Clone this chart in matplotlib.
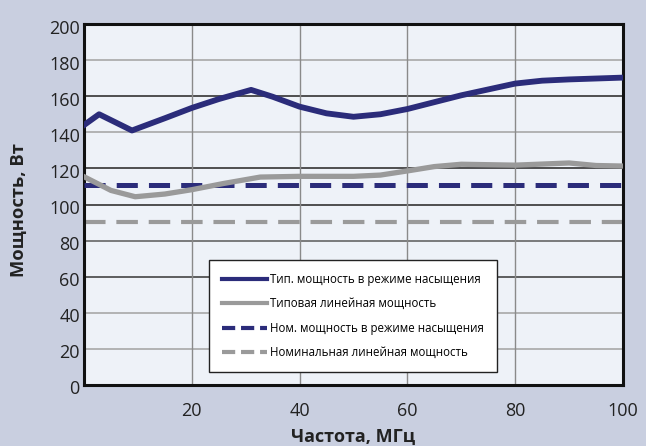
import matplotlib
matplotlib.use("Agg")
import matplotlib.pyplot as plt
from matplotlib.lines import Line2D
import matplotlib.transforms as mtransforms

plt.rcParams['font.family'] = ['Open Sans', 'DejaVu Sans']
plt.rcParams['lines.scale_dashes'] = False

# ---- data ----
freq_sat = [0, 2.8, 8.9, 15, 20, 25, 31, 35, 40, 45, 50, 55, 60, 70, 80, 85, 90, 100]
pow_sat = [144, 150, 141, 147.8, 153.5, 158.4, 163.5, 159.7, 154.2, 150.5, 148.6, 150, 152.9, 160.5, 167, 168.6, 169.3, 170.3]

freq_lin = [0, 5, 9.5, 15, 20, 26, 32.7, 40, 50, 55, 60, 65, 70, 80, 85, 90, 95, 100]
pow_lin = [115.4, 107.8, 104.3, 105.8, 108.2, 111.7, 115.2, 115.6, 115.6, 116.3, 118.6, 121, 122.3, 121.8, 122.4, 123, 121.6, 121.3]

nom_sat = 111
nom_lin = 90.5

labels = ["Тип. мощность в режиме насыщения",
          "Типовая линейная мощность",
          "Ном. мощность в режиме насыщения",
          "Номинальная линейная мощность"]

x_ticks = [20, 40, 60, 80, 100]
y_ticks = [0, 20, 40, 60, 80, 100, 120, 140, 160, 180, 200]

# ---- style ----
navy = "#2b2c7a"
gray = "#9a9a9a"
bg = "#c9cfe0"
plot_bg = "#eef2f8"

fig = plt.figure(figsize=(6.46, 4.46), dpi=100, facecolor=bg)
ax = fig.add_axes([84/646, 1-385/446, (623-84)/646, (385-24)/446])
ax.set_facecolor(plot_bg)
ax.set_xlim(0, 100)
ax.set_ylim(0, 200)

# grid
grid_colors = {20: "#a8a8a8", 40: "#a8a8a8", 60: "#444444", 80: "#666666",
               100: "#333333", 120: "#333333", 140: "#a8a8a8", 160: "#333333", 180: "#a8a8a8"}
for yv, c in grid_colors.items():
    ax.axhline(yv, color=c, lw=1.2, zorder=1)
for xv in x_ticks[:-1]:
    ax.axvline(xv, color="#8a8a8a", lw=1.0, zorder=1)

ax.axhline(nom_lin, color=gray, lw=3.0, dashes=(15.5, 7.8), zorder=2)
ax.axhline(nom_sat, color=navy, lw=3.6, dashes=(15.2, 8.0), zorder=3)
ax.plot(freq_lin, pow_lin, color=gray, lw=3.8, solid_joinstyle='round', zorder=4)
ax.plot(freq_sat, pow_sat, color=navy, lw=4.2, solid_joinstyle='round', zorder=5)

ax.set_xticks(x_ticks)
ax.set_yticks(y_ticks)
ax.tick_params(axis='both', length=0, labelsize=13, labelcolor="#222222")
ax.tick_params(axis='x', pad=12)
ax.tick_params(axis='y', pad=3)
offset = mtransforms.ScaledTranslation(0, -2.5/100, fig.dpi_scale_trans)
for lab in ax.get_yticklabels():
    lab.set_transform(lab.get_transform() + offset)

for s in ax.spines.values():
    s.set_linewidth(2.2)
    s.set_color("#111111")

ax.set_xlabel("Частота, МГц", fontsize=13, fontweight='bold', color="#222222", labelpad=6)
ax.set_ylabel("Мощность, Вт", fontsize=13.2, fontweight='bold', color="#222222")
ax.yaxis.set_label_coords(-0.121, 0.485)
ax.yaxis.label.set_verticalalignment('center')

handles = [Line2D([], [], color=navy, lw=3.0),
           Line2D([], [], color=gray, lw=3.0),
           Line2D([], [], color=navy, lw=3.0, dashes=(9.5, 4.2)),
           Line2D([], [], color=gray, lw=3.0, dashes=(9.5, 4.2))]
leg = ax.legend(handles, labels, loc='upper left', bbox_to_anchor=(0.232, 0.346),
                fontsize=8.3, frameon=True, fancybox=False, framealpha=1,
                edgecolor="#222222", facecolor="white", handlelength=3.9,
                handletextpad=0.3, labelspacing=1.0, borderpad=1.1, borderaxespad=0)
leg.get_frame().set_linewidth(1.0)
leg.set_zorder(10)

fig.savefig("out.png", dpi=100, facecolor=bg)
